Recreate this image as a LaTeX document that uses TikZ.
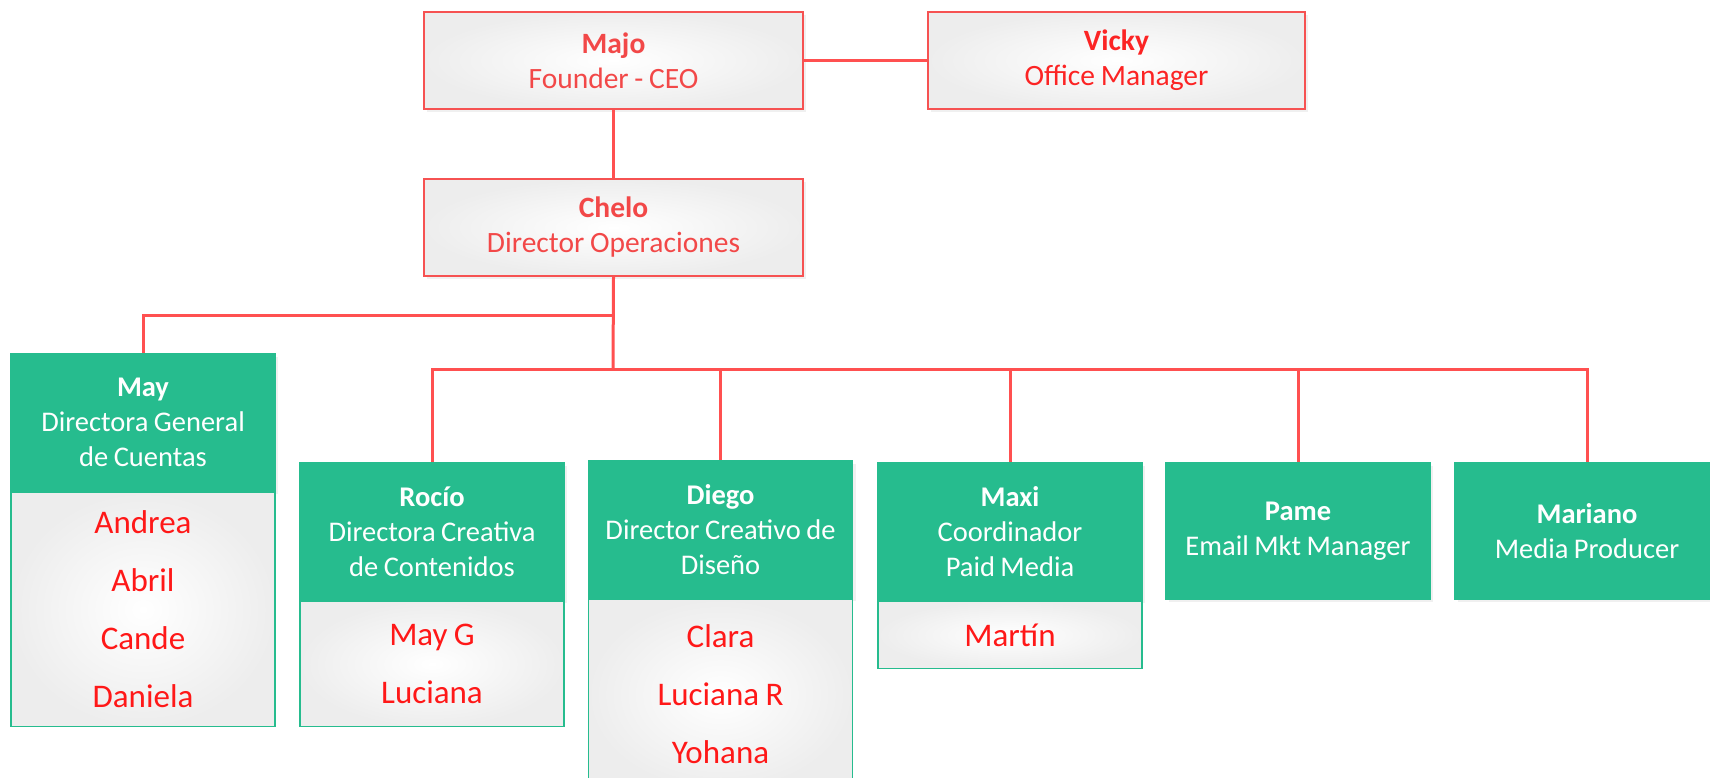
\documentclass[tikz,border=0pt]{standalone}
\usepackage{fontspec}
\setmainfont{Carlito}[WordSpace=0.85]
\usetikzlibrary{positioning,shadows}

\definecolor{topred}{RGB}{242,72,72}
\definecolor{vickyred}{RGB}{252,36,36}
\definecolor{namered}{RGB}{255,24,24}
\definecolor{boxred}{RGB}{246,82,82}
\definecolor{linered}{RGB}{255,80,80}
\definecolor{boxgreen}{RGB}{38,188,142}

\begin{document}
\begin{tikzpicture}[x=1pt, y=-1pt,
		top_style/.style={rectangle,draw=boxred,line width=2pt,shading=radial,inner color=white,outer color=gray!14,
			minimum width=379pt,minimum height=97pt,align=center,text=topred,
			font=\fontsize{29.5}{35}\selectfont,drop shadow={opacity=0.12,shadow xshift=3pt,shadow yshift=-3pt}},
		head_style/.style={rectangle,draw=boxgreen,fill=boxgreen,line width=1.5pt,minimum width=264pt,inner ysep=0pt,
			minimum height=137pt,align=center,text=white,font=\fontsize{28.5}{35}\selectfont,
			drop shadow={opacity=0.12,shadow xshift=3pt,shadow yshift=-3pt}},
		list_style/.style={rectangle,draw=boxgreen,line width=1.5pt,shading=radial,inner color=white,outer color=gray!14,
			minimum width=264pt,inner ysep=0pt,align=center,text=namered,
			font=\fontsize{33}{58}\selectfont},
		edge_style/.style={draw=linered,line width=3pt}]
		
		\clip (0,0) rectangle (1710,777);
		
		% top of the chart
		\node[top_style] (majo) at (613.5,60.5) {\textbf{Majo}\\Founder - CEO};
		\node[top_style,text=vickyred,minimum width=377pt] (vicky) at (1116.5,60.5) {\textbf{Vicky}\\Office Manager};
		\node[top_style] (chelo) at (613.5,227.5) {\textbf{Chelo}\\Director Operaciones};
		
		% teams
		\node[head_style] (mayh) at (143,422.5) {\textbf{May}\\Directora General\\de Cuentas};
		\node[list_style,minimum height=234pt,below=0pt of mayh] (mayl) {Andrea\\Abril\\Cande\\Daniela};
		
		\node[head_style] (rocioh) at (432,531.5) {\textbf{Rocío}\\Directora Creativa\\de Contenidos};
		\node[list_style,minimum height=125pt,below=0pt of rocioh] (rociol) {May G\\Luciana};
		
		\node[head_style] (diegoh) at (720.5,529.5) {\textbf{Diego}\\Director Creativo de\\Diseño};
		\node[list_style,minimum height=190pt,below=0pt of diegoh] (diegol) {Clara\\Luciana R\\Yohana};
		
		\node[head_style] (maxih) at (1010,531.5) {\textbf{Maxi}\\Coordinador\\Paid Media};
		\node[list_style,minimum height=67pt,below=0pt of maxih] (maxil) {Martín};
		
		\node[head_style,minimum height=136pt] (pame) at (1298,531) {\textbf{Pame}\\Email Mkt Manager};
		\node[head_style,minimum height=136pt] (mariano) at (1587,531) {\textbf{Mariano}\\Media Producer};
		
		% connectors
		\coordinate (maysplit) at (613,315);
		\coordinate (bus) at (613,369);
		
		\draw[edge_style]  (majo.east) -- (vicky.west);
		\draw[edge_style]  (majo) -- (chelo);
		\draw[edge_style]  (chelo.south) -- (bus);
		\draw[edge_style]  (maysplit) -| (mayh.north);
		\draw[edge_style]  (bus) -| (rocioh.north);
		\draw[edge_style]  (bus) -| (diegoh.north);
		\draw[edge_style]  (bus) -| (maxih.north);
		\draw[edge_style]  (bus) -| (pame.north);
		\draw[edge_style]  (bus) -| (mariano.north);
		
\end{tikzpicture}
\end{document}
